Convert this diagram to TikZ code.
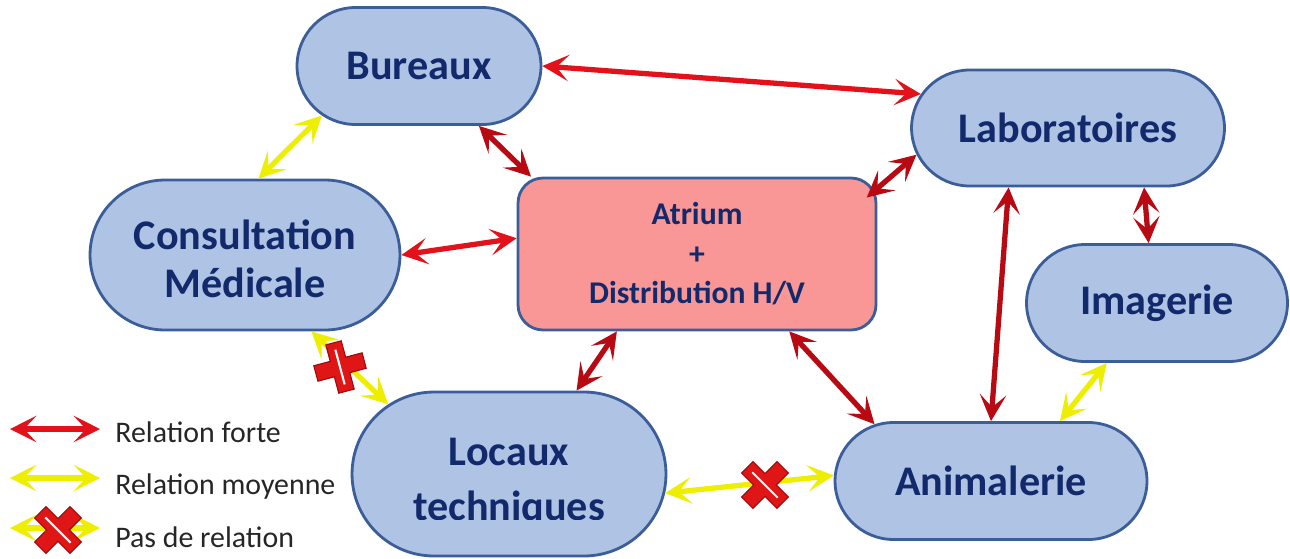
\documentclass[tikz,border=0pt]{standalone}
\usepackage{fontspec}
\setmainfont{Carlito}
\usepackage{tikz}
\usetikzlibrary{arrows.meta, shapes.misc}
\usepackage{xcolor}
\definecolor{roomfill}{HTML}{AFC3E5}
\definecolor{roomline}{HTML}{3C5E98}
\definecolor{roomtext}{HTML}{12296C}
\definecolor{hubfill}{HTML}{F99696}
\definecolor{strongred}{HTML}{E3121A}
\definecolor{darkred}{HTML}{B80A12}
\definecolor{midyellow}{HTML}{EEEE00}
\definecolor{crossred}{HTML}{E01515}
\definecolor{crossedge}{HTML}{9A0A0A}

\tikzset{
    nocross/.pic={
        \fill[crossred, draw=crossedge, line width=0.6pt]
            (-8,-25) -- (8,-25) -- (8,-8) -- (25,-8) -- (25,8) -- (8,8) -- (8,25)
            -- (-8,25) -- (-8,8) -- (-25,8) -- (-25,-8) -- (-8,-8) -- cycle;
        \draw[white, line width=1.2pt] (0,-18) -- (0,18);
    }
}

\begin{document}
\begin{tikzpicture}[
    x=0.02cm, y=-0.02cm,
    >={Stealth[length=15pt, width=15pt, inset=7pt]},
    room/.style={rounded rectangle, draw=roomline, fill=roomfill, line width=1.6pt,
        text=roomtext, font=\fontsize{24}{27}\selectfont\bfseries, align=center, inner sep=0pt},
    roomlabel/.style={text=roomtext, font=\fontsize{24}{27}\selectfont\bfseries, anchor=base, inner sep=0pt},
    hub/.style={rectangle, rounded corners=0.5cm, draw=roomline, fill=hubfill, line width=1.6pt,
        text=roomtext, font=\fontsize{18}{22.5}\selectfont\bfseries, align=center},
    strong/.style={<->, draw=strongred, line width=3pt},
    strongdark/.style={strong, draw=darkred},
    medium/.style={<->, draw=midyellow, line width=3pt},
    legend/.style={anchor=west, inner sep=0pt, font=\fontsize{17}{20}\selectfont, text=black!85}
]
\useasboundingbox (0,0) rectangle (1290,558);

% rooms
\node[room, minimum width=4.88cm, minimum height=2.34cm] (bur) at (419,66) {Bureaux};
\node[room, minimum width=6.26cm, minimum height=2.32cm] (lab) at (1068,128) {Laboratoires};
\node[room, minimum width=6.2cm, minimum height=3cm] (con) at (245,255) {};
\node[hub, minimum width=7.16cm, minimum height=3.04cm] (atr) at (697,254) {Atrium\\+\\Distribution H/V};
\node[room, minimum width=5.22cm, minimum height=2.34cm] (img) at (1157,303) {Imagerie};
\node[room, minimum width=6.28cm, minimum height=3.28cm] (loc) at (509,474) {};
\node[room, minimum width=6.24cm, minimum height=2.34cm] (ani) at (991,481) {Animalerie};

\node[roomlabel] (con1) at (245,249) {Consultation};
\node[roomlabel] (con2) at (245,297) {Médicale};

% text of Locaux techniques, cut at the bottom
\begin{scope}
    \clip (352,380) rectangle (668,519);
    \node[roomlabel] (loc1) at (509,465) {Locaux};
    \node[roomlabel] (loc2) at (509,520) {techniques};
\end{scope}

% relations
\draw[strong] (bur.east) -- (lab.167);
\draw[strongdark] (bur.-45) -- (atr.155);
\draw[medium] (bur.207) -- (con.80);
\draw[strong] (con.east) -- (atr.175);
\draw[strongdark, shorten <=-8pt] (atr.20) -- (lab.190);
\draw[strongdark] (lab.-38) -- (img.98);
\draw[strongdark] (lab.225) -- (ani.north);
\draw[medium] (img.230) -- (ani.41);
\draw[strongdark] (atr.-40) -- (ani.154);
\draw[strongdark] (atr.224) -- (loc.51);
\draw[medium] (con.-49) -- (loc.150);
\draw[medium] (loc.-7) -- (ani.178);
\pic[rotate=15] at (340,367) {nocross};
\pic[rotate=45] at (765,485) {nocross};

% Legend
\node[legend] (lgf) at (115,432) {Relation forte};
\node[legend] (lgm) at (115,487) {Relation moyenne};
\node[legend] (lgn) at (115,537) {Pas de relation};
\coordinate (lfa) at (10,429);
\coordinate (lfb) at (100,429);
\coordinate (lma) at (10,478);
\coordinate (lmb) at (100,478);
\coordinate (lna) at (10,528);
\coordinate (lnb) at (100,528);
\draw[strong] (lfa) -- (lfb);
\draw[medium] (lma) -- (lmb);
\draw[medium] (lna) -- (lnb);
\pic[rotate=45] at (58,530) {nocross};
\end{tikzpicture}
\end{document}
